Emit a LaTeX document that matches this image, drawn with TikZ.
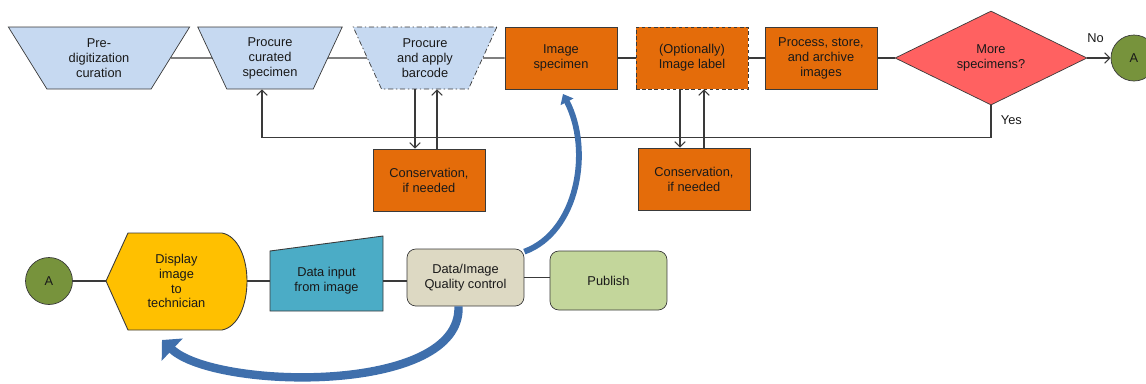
\documentclass[tikz,border=0pt]{standalone}
\usepackage{fontspec}
\setmainfont{Liberation Sans}
\usetikzlibrary{shapes.geometric,arrows.meta}
\definecolor{lblue}{HTML}{C6D9F1}
\definecolor{orng}{HTML}{E46C0A}
\definecolor{rose}{HTML}{FF6161}
\definecolor{leaf}{HTML}{77933C}
\definecolor{gold}{HTML}{FFC000}
\definecolor{teal}{HTML}{4BACC6}
\definecolor{sand}{HTML}{DDD9C3}
\definecolor{lime}{HTML}{C3D69B}
\definecolor{sea}{HTML}{3F6FAC}
\definecolor{ink}{HTML}{3A3A3A}

\begin{document}
\begin{tikzpicture}[x=0.02cm, y=-0.02cm,
    every node/.style={font=\fontsize{7.3}{8.5}\selectfont, align=center, text=black!90},
    trap/.style={trapezium, trapezium stretches=true, shape border rotate=180,
        draw=ink, fill=lblue, minimum height=1.24cm, inner sep=0pt},
    box/.style={draw=ink, fill=orng, minimum width=2.24cm, minimum height=1.24cm, inner sep=1pt},
    rbox/.style={draw=ink, rounded corners=5pt, minimum width=2.34cm, inner sep=1pt},
    blob/.style={circle, draw=ink, fill=leaf, minimum size=0.92cm, inner sep=0pt},
    conn/.style={draw=ink, line width=0.6pt},
    arr/.style={conn, -{Straight Barb[length=3pt,width=6pt]}},
    swoop/.style={draw=sea, line cap=butt}
]
    \useasboundingbox (0,0) rectangle (1146,383);

    % upper row
    \node[trap, minimum width=3.64cm, trapezium angle=60] (pre) at (99,58) {Pre-\\digitization\\curation};
    \node[trap, minimum width=2.9cm, trapezium angle=66] (cur) at (270,58) {Procure\\curated\\specimen};
    \node[trap, minimum width=2.88cm, trapezium angle=65,
        dash pattern=on 3pt off 1.5pt on 0.8pt off 1.5pt] (bar) at (425,58) {Procure\\and apply\\barcode};
    \node[box] (img) at (561,58) {Image\\specimen};
    \node[box, dash pattern=on 2pt off 1.5pt] (lab) at (692,58) {(Optionally)\\Image label};
    \node[box] (proc) at (821,58) {Process, store,\\and archive\\images};
    \node[diamond, aspect=2, draw=ink, fill=rose, inner sep=0pt,
        minimum width=3.84cm, minimum height=1.88cm] (more) at (991,58) {More\\specimens?};
    \node[blob] (endA) at (1134,58) {A};
    \node[box] (cons1) at (429,180) {Conservation,\\if needed};
    \node[box] (cons2) at (694,179) {Conservation,\\if needed};

    \draw[conn] (pre.east) -- (cur.west);
    \draw[conn] (cur.east) -- (bar.west);
    \draw[conn] (bar.east) -- (img.west);
    \draw[conn] (img.east) -- (lab.west);
    \draw[conn] (lab.east) -- (proc.west);
    \draw[conn] (proc.east) -- (more.west);
    \draw[arr] (more.east) -- (endA.west) node[pos=0.35, above=5pt] {No};
    \draw[arr] (more.south) -- ++(0,32) node[pos=0.45, right=2pt] {Yes}
        -| ([xshift=-0.16cm]cur.south);
    \draw[arr] ([xshift=-0.2cm]bar.south) -- ([xshift=-0.2cm]bar.south |- cons1.north);
    \draw[arr] ([xshift=0.24cm]bar.south |- cons1.north) -- ([xshift=0.24cm]bar.south);
    \draw[arr] ([xshift=-0.24cm]lab.south) -- ([xshift=-0.24cm]lab.south |- cons2.north);
    \draw[arr] ([xshift=0.24cm]lab.south |- cons2.north) -- ([xshift=0.24cm]lab.south);

    % lower row
    \node[blob, minimum size=0.94cm] (startA) at (49,281) {A};
    \fill[gold, draw=ink, line width=0.5pt] (106,281) -- (128,233) -- (222,233)
        .. controls (238,236) and (247,258) .. (247,281)
        .. controls (247,305) and (238,327) .. (222,330) -- (128,330) -- cycle;
    \node[minimum width=2.82cm, minimum height=1.9cm, inner sep=0pt] (disp) at (176.5,281) {Display\\image\\to\\technician};
    \fill[teal, draw=ink, line width=0.5pt] (270,251) -- (383,236) -- (383,311) -- (270,311) -- cycle;
    \node[minimum width=2.26cm, minimum height=1.2cm, inner sep=0pt] (inp) at (326.5,281) {Data input\\from image};
    \node[rbox, fill=sand, minimum height=1.14cm] (qc) at (465.5,277.5) {Data/Image\\Quality control};
    \node[rbox, fill=lime, minimum height=1.18cm] (pub) at (608.5,280.5) {Publish};

    \draw[conn] (startA.east) -- (disp.west);
    \draw[conn] (disp.east) -- (inp.west);
    \draw[conn] (inp.east) -- (inp.east -| qc.west);
    \draw[conn] (qc.east) -- (qc.east -| pub.west);

    % feedback swoops
    \coordinate (fwd) at (563,94);
    \coordinate (back) at (162,340);
    \draw[swoop, line width=3.3pt, -{Triangle[length=5pt,width=8pt]}]
        ([yshift=-0.06cm]qc.north east) .. controls (578,232) and (592,150) .. (fwd);
    \draw[swoop, line width=4.8pt, -{Triangle[length=8pt,width=17pt]}]
        ([xshift=-0.14cm]qc.south) .. controls (462,395) and (215,390) .. (back);
\end{tikzpicture}
\end{document}
